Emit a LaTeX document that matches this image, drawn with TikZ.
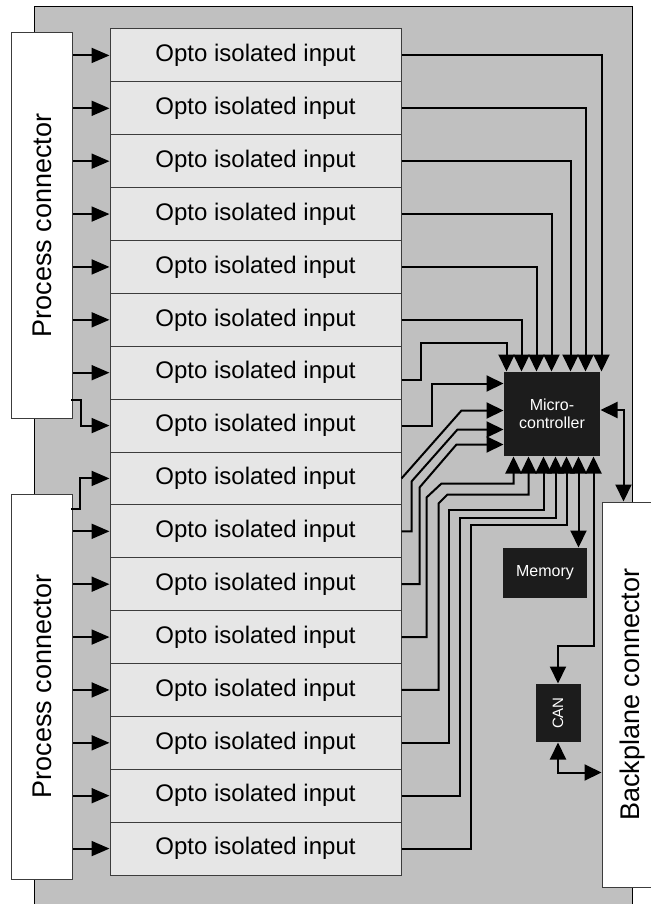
\documentclass[tikz,border=0pt]{standalone}
\usepackage{fontspec}
\setmainfont{Liberation Sans}
\usepackage{tikz}
\usetikzlibrary{arrows.meta}
\usetikzlibrary{calc, positioning}
\definecolor{boardgray}{RGB}{192,192,192}
\definecolor{optogray}{RGB}{230,230,230}
\definecolor{chipblack}{RGB}{28,28,28}
\definecolor{edgegray}{RGB}{60,60,60}
\tikzset{every picture/.style={line width=1pt}}
\tikzset{
  opto/.style={draw=edgegray, fill=optogray, minimum width=291pt, minimum height=52.875pt, inner sep=0pt, font=\fontsize{24}{28}\selectfont},
  conn/.style={draw=edgegray, fill=white, minimum width=61pt, minimum height=385pt, inner sep=0pt, font=\fontsize{27}{30}\selectfont},
  chip/.style={fill=chipblack, text=white, inner sep=0pt, align=center, font=\fontsize{16}{18}\selectfont},
  pin/.style={line width=2pt, -{Triangle[length=18pt,width=15pt]}},
  wire/.style={line width=2pt, -{Triangle[length=17pt,width=16pt]}},
  biwire/.style={line width=2pt, {Triangle[length=17pt,width=16pt]}-{Triangle[length=17pt,width=16pt]}}
}

\begin{document}
\begin{tikzpicture}[x=1pt, y=-1pt]
\useasboundingbox (0,0) rectangle (650,904);
\draw[fill=boardgray] (34,7) rectangle (632,912);

\node[conn] (pc1) at (42,225.5) {\rotatebox{90}{Process connector}};
\node[conn] (pc2) at (42,686.5) {\rotatebox{90}{Process connector}};
\node[conn] (bp) at (632.5,694.5) {\rotatebox{90}{Backplane connector}};

\foreach \i in {0,...,15} {
    \node[opto] (in\i) at (255.5, {55.44+52.875*\i}) {Opto isolated input};
}

\node[chip, minimum width=96pt, minimum height=84pt] (micro) at (552,414) {Micro-\\controller};
\node[chip, minimum width=84pt, minimum height=50pt] (memory) at (545,573) {Memory};
\node[chip, minimum width=45pt, minimum height=58pt, font=\fontsize{15}{18}\selectfont] (can) at (558,713) {\rotatebox{90}{CAN}};

\foreach \i in {0,...,6} {
    \draw[pin] (pc1.east |- in\i.west) -- (in\i.west);
}
\foreach \i in {9,...,15} {
    \draw[pin] (pc2.east |- in\i.west) -- (in\i.west);
}
\draw[pin] ($(pc1.south east)+(-2,-19)$) -- ++(10,0) |- (in7.west);
\draw[pin] ($(pc2.north east)+(-2,15)$) -- ++(9,0) |- (in8.west);

\foreach \i/\dx in {0/98, 1/82, 2/67, 3/48, 4/33, 5/18} {
    \draw[wire] (in\i.east) -| ($(micro.north west)+(\dx,0)$);
}
\draw[wire] ($(in6.east)+(0,7)$) -- ++(19,0) -- ++(0,-37) -| ($(micro.north west)+(3,0)$);

\draw[wire] (in7.east) -- ++(30,0) |- ($(micro.north west)+(0,12)$);
\draw[wire] (in8.east) -- ($(micro.north west)+(-42,39)$) -- ($(micro.north west)+(0,39)$);
\draw[wire] (in9.east) -| ($(micro.north west)+(-92,110)$) -- ($(micro.north west)+(-46,58)$) -- ($(micro.north west)+(0,58)$);
\draw[wire] (in10.east) -| ($(micro.north west)+(-84,116)$) -- ($(micro.north west)+(-47,73)$) -- ($(micro.north west)+(0,73)$);

\draw[wire] (in11.east) -| ($(micro.south west)+(-77,41)$) -- ($(micro.south west)+(-62,27)$) -| ($(micro.south west)+(10,0)$);
\draw[wire] (in12.east) -| ($(micro.south west)+(-65,47)$) -- ($(micro.south west)+(-56,38)$) -| ($(micro.south west)+(25,0)$);
\draw[wire] (in13.east) -| ($(micro.south west)+(-55,53)$) -| ($(micro.south west)+(40,0)$);
\draw[wire] (in14.east) -| ($(micro.south west)+(-44,61)$) -| ($(micro.south west)+(52,0)$);
\draw[wire] (in15.east) -| ($(micro.south west)+(-33,68)$) -| ($(micro.south west)+(63,0)$);

\draw[biwire] ($(micro.south west)+(75,0)$) -- ($(memory.north west)+(76,0)$);
\draw[biwire] ($(micro.south west)+(90,0)$) -- ++(0,189) -| (can.north);
\draw[biwire] (can.south) |- ($(bp.north west)+(0,271)$);
\draw[biwire] ($(micro.east)+(0,-4)$) -| ($(bp.north west)+(22,0)$);
\end{tikzpicture}
\end{document}
